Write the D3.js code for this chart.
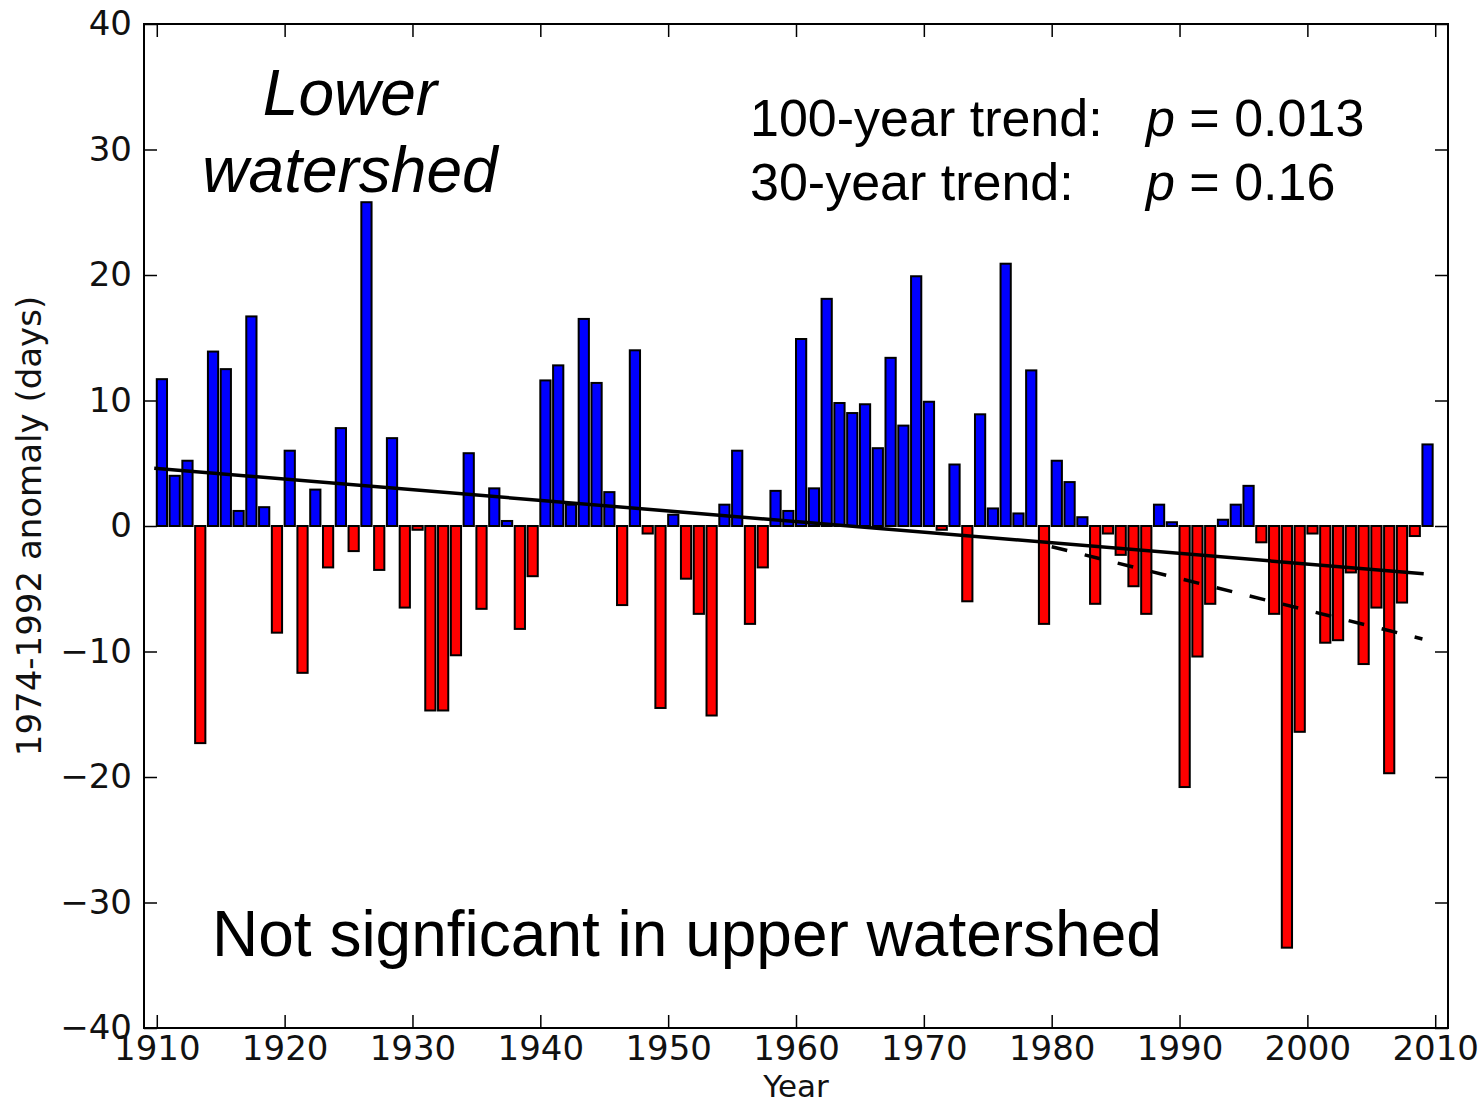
<!DOCTYPE html>
<html>
<head>
<meta charset="utf-8">
<script src="https://cdn.jsdelivr.net/npm/d3@7"></script>
<style>
  html, body { margin: 0; padding: 0; background: #fff; }
  svg { display: block; }
</style>
</head>
<body>
<svg id="chart" width="1479" height="1105"></svg>
<script>
// Annual anomaly (days) relative to the 1974-1992 mean, lower watershed
const firstYear = 1910;
const anomalies = [
  11.7, 4.0, 5.2, -17.3, 13.9, 12.5, 1.2, 16.7, 1.5, -8.5,      // 1910s
  6.0, -11.7, 2.9, -3.3, 7.8, -2.0, 25.8, -3.5, 7.0, -6.5,      // 1920s
  -0.3, -14.7, -14.7, -10.3, 5.8, -6.6, 3.0, 0.4, -8.2, -4.0,   // 1930s
  11.6, 12.8, 1.7, 16.5, 11.4, 2.7, -6.3, 14.0, -0.6, -14.5,    // 1940s
  0.9, -4.2, -7.0, -15.1, 1.7, 6.0, -7.8, -3.3, 2.8, 1.2,       // 1950s
  14.9, 3.0, 18.1, 9.8, 9.0, 9.7, 6.2, 13.4, 8.0, 19.9,         // 1960s
  9.9, -0.3, 4.9, -6.0, 8.9, 1.4, 20.9, 1.0, 12.4, -7.8,        // 1970s
  5.2, 3.5, 0.7, -6.2, -0.6, -2.3, -4.8, -7.0, 1.7, 0.3,        // 1980s
  -20.8, -10.4, -6.2, 0.5, 1.7, 3.2, -1.3, -7.0, -33.6, -16.4,  // 1990s
  -0.6, -9.3, -9.1, -3.7, -11.0, -6.5, -19.7, -6.1, -0.8, 6.5   // 2000s
];
const years = anomalies.map((_, i) => firstYear + i);

// Fitted linear trends: [year, anomaly] end points
const trend100 = [[1909.8, 4.6], [2009.1, -3.8]];
const trend30 = [[1980.0, -1.65], [2009.0, -9.0]];

const xTicks = [1910, 1920, 1930, 1940, 1950, 1960, 1970, 1980, 1990, 2000, 2010];
const yTicks = [-40, -30, -20, -10, 0, 10, 20, 30, 40];

const pValueLines = [
  { label: "100-year trend:", p: " = 0.013" },
  { label: "30-year trend:", p: " = 0.16" }
];
const regionTitle = ["Lower", "watershed"];
const footNote = "Not signficant in upper watershed";

// ---- layout ----
const plot = { left: 144, right: 1448, top: 24, bottom: 1028 };
const barWidth = 0.8;

const x = d3.scaleLinear().domain([1909, 2011]).range([plot.left, plot.right]);
const y = d3.scaleLinear().domain([-40, 40]).range([plot.bottom, plot.top]);

const svg = d3.select("#chart");
svg.append("rect").attr("width", 1479).attr("height", 1105).attr("fill", "#fff");

// bars
svg.append("g")
  .selectAll("rect")
  .data(anomalies)
  .join("rect")
  .attr("x", (d, i) => x(years[i]))
  .attr("width", (d, i) => x(years[i] + barWidth) - x(years[i]))
  .attr("y", d => y(Math.max(0, d)))
  .attr("height", d => Math.abs(y(d) - y(0)))
  .attr("fill", d => d >= 0 ? "#0000ff" : "#ff0000")
  .attr("stroke", "#000")
  .attr("stroke-width", 2);

// trend lines
const line = d3.line().x(d => x(d[0])).y(d => y(d[1]));
svg.append("path")
  .attr("d", line(trend100))
  .attr("fill", "none")
  .attr("stroke", "#000")
  .attr("stroke-width", 3.5);
svg.append("path")
  .attr("d", line(trend30))
  .attr("fill", "none")
  .attr("stroke", "#000")
  .attr("stroke-width", 3.5)
  .attr("stroke-dasharray", "16,18");

// axes: ticks point inward on all four sides
const tickFont = g => g.selectAll("text")
  .attr("font-family", "'DejaVu Sans', sans-serif")
  .attr("font-size", 34)
  .attr("fill", "#111");

svg.append("g")
  .attr("transform", `translate(0,${plot.bottom})`)
  .call(d3.axisBottom(x).tickValues(xTicks).tickFormat(d3.format("d"))
    .tickSizeInner(-13).tickSizeOuter(0).tickPadding(8))
  .call(tickFont);

svg.append("g")
  .attr("transform", `translate(${plot.left},0)`)
  .call(d3.axisLeft(y).tickValues(yTicks)
    .tickSizeInner(-13).tickSizeOuter(0).tickPadding(12))
  .call(tickFont);

svg.append("g")
  .attr("transform", `translate(0,${plot.top})`)
  .call(d3.axisTop(x).tickValues(xTicks).tickFormat("")
    .tickSizeInner(-13).tickSizeOuter(0));

svg.append("g")
  .attr("transform", `translate(${plot.right},0)`)
  .call(d3.axisRight(y).tickValues(yTicks).tickFormat("")
    .tickSizeInner(-13).tickSizeOuter(0));

svg.selectAll(".domain").remove();
svg.selectAll(".tick line").attr("stroke", "#000").attr("stroke-width", 1.5);

// frame
svg.append("rect")
  .attr("x", plot.left).attr("y", plot.top)
  .attr("width", plot.right - plot.left).attr("height", plot.bottom - plot.top)
  .attr("fill", "none").attr("stroke", "#000").attr("stroke-width", 2);

// axis titles
svg.append("text")
  .attr("x", (plot.left + plot.right) / 2).attr("y", 1097)
  .attr("text-anchor", "middle")
  .attr("font-family", "'DejaVu Sans', sans-serif").attr("font-size", 31)
  .attr("fill", "#111")
  .text("Year");

svg.append("text")
  .attr("transform", `translate(41,${(plot.top + plot.bottom) / 2}) rotate(-90)`)
  .attr("text-anchor", "middle")
  .attr("font-family", "'DejaVu Sans', sans-serif").attr("font-size", 34)
  .attr("fill", "#111")
  .text("1974-1992 anomaly (days)");

// annotations
const region = svg.append("text")
  .attr("text-anchor", "middle")
  .attr("font-family", "'Liberation Sans', Arial, sans-serif")
  .attr("font-style", "italic")
  .attr("font-size", 64)
  .attr("fill", "#000");
region.selectAll("tspan").data(regionTitle).join("tspan")
  .attr("x", 350)
  .attr("y", (d, i) => 115 + i * 77)
  .text(d => d);

const stats = svg.append("g")
  .attr("font-family", "'Liberation Sans', Arial, sans-serif")
  .attr("font-size", 52)
  .attr("fill", "#000");
pValueLines.forEach((row, i) => {
  const by = 136 + i * 64;
  stats.append("text").attr("x", 750).attr("y", by).text(row.label);
  const t = stats.append("text").attr("x", 1146).attr("y", by);
  t.append("tspan").attr("font-style", "italic").text("p");
  t.append("tspan").text(row.p);
});

svg.append("text")
  .attr("x", 212).attr("y", 956)
  .attr("font-family", "'Liberation Sans', Arial, sans-serif")
  .attr("font-size", 64)
  .attr("fill", "#000")
  .text(footNote);
</script>
</body>
</html>
